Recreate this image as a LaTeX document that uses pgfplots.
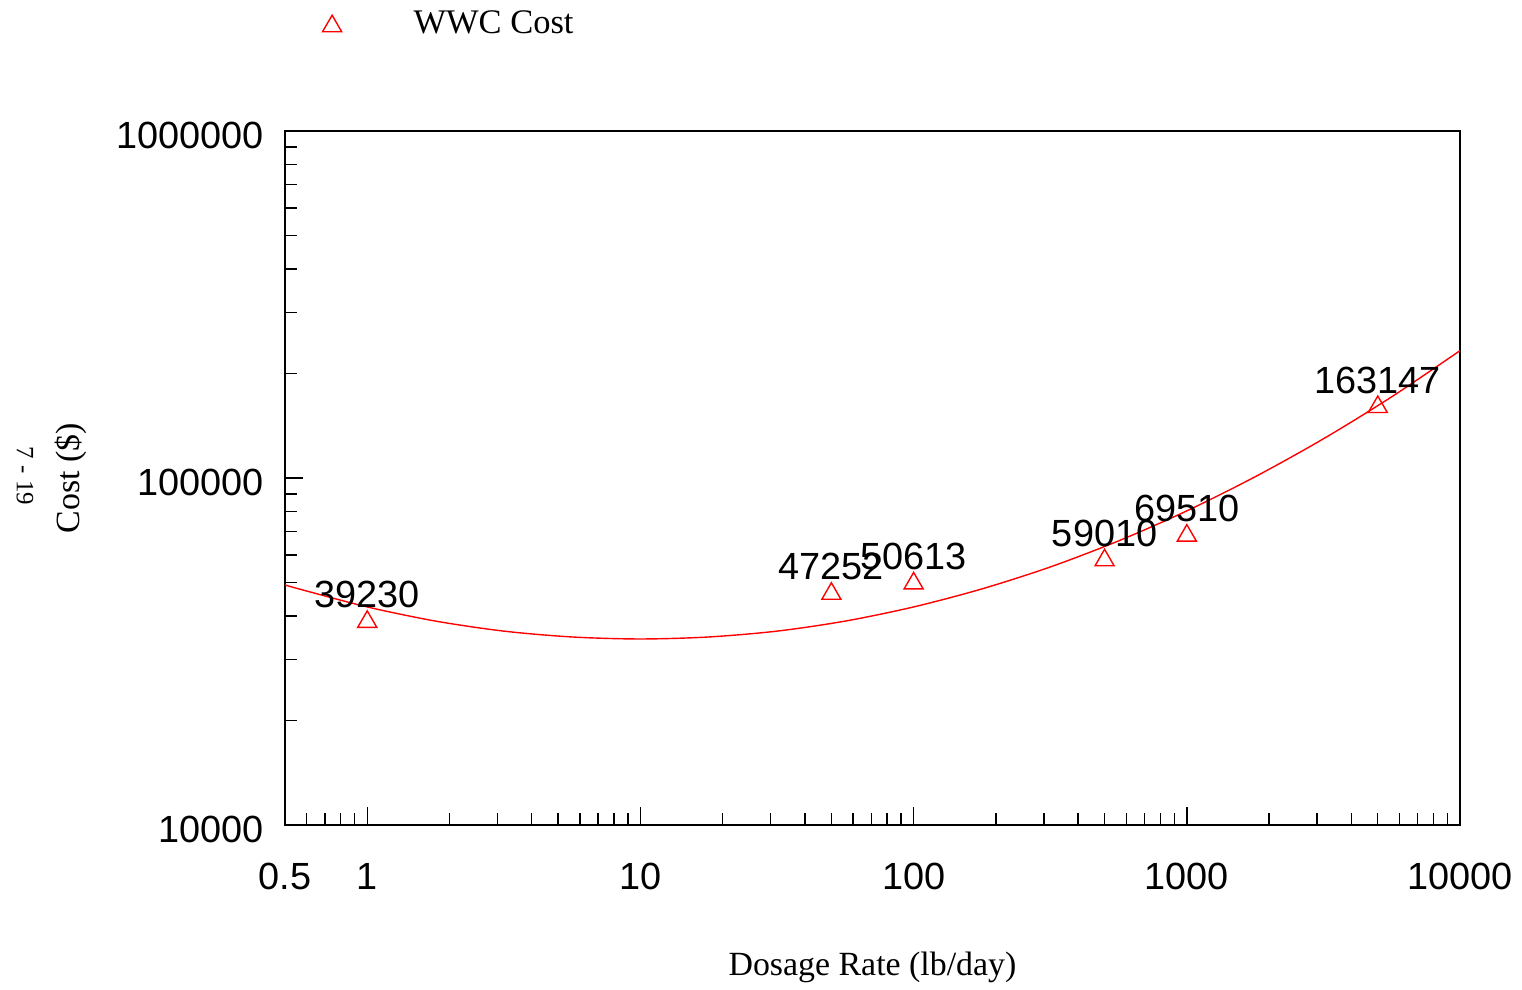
\documentclass[border=0pt]{standalone}
\usepackage{fontspec}
\setmainfont{Liberation Serif}
\newfontfamily\sans{Liberation Sans}
\usepackage{pgfplots}
\pgfplotsset{compat=1.18}
\usepackage{pgfplotstable}

% measured costs
\pgfplotstableread{
x y lbl
1 39230 39230
50 47252 47252
100 50613 50613
500 59010 59010
1000 69510 69510
5000 163147 163147
}\pts

% fitted curve
\pgfplotstableread{
x y
0.5 49200
0.5623 47900
1 42500
1.778 38700
3.162 36200
5.623 34820
10 34360
17.78 34820
31.62 36200
56.23 38700
100 42500
177.8 47900
316.2 55400
562.3 65870
1000 80400
1778 100800
3162 129700
5623 171400
10000 232800
}\fitcurve

\begin{document}
\begin{tikzpicture}
\useasboundingbox (-142.5bp,-82.5bp) rectangle (618.5bp,412.5bp);
\begin{axis}[
    at={(0,0)}, anchor=south west, scale only axis,
    width=587.5bp, height=347bp,
    xmode=log, ymode=log,
    xmin=0.5, xmax=10000, ymin=10000, ymax=1000000,
    xtick={0.5,1,10,100,1000,10000},
    xticklabels={0.5,1,10,100,1000,10000},
    minor xtick={0.6,0.7,0.8,0.9,2,3,4,5,6,7,8,9,20,30,40,50,60,70,80,90,200,300,400,500,600,700,800,900,2000,3000,4000,5000,6000,7000,8000,9000},
    ytick={10000,100000,1000000},
    yticklabels={10000,100000,1000000},
    minor ytick={20000,30000,40000,50000,60000,70000,80000,90000,200000,300000,400000,500000,600000,700000,800000,900000},
    xtick pos=left, ytick pos=left, tick align=inside,
    major tick length=9bp, minor tick length=6bp,
    every tick/.style={black, line width=0.7bp},
    axis line style={line width=0.7bp},
    /pgf/number format/assume math mode=true,
    ticklabel style={font=\sans\fontsize{19}{21}\selectfont},
    xticklabel style={yshift=-15.5bp},
    yticklabel style={xshift=-7bp, yshift=-2bp},
    xlabel={Dosage Rate (lb/day)},
    ylabel={Cost (\$)},
    label style={font=\fontsize{17}{20}\selectfont},
    xlabel style={at={(axis description cs:0.5,0)}, anchor=center, yshift=-71bp},
    ylabel style={at={(axis description cs:-0.182,0.5)}, anchor=center},
    legend style={at={(axis description cs:0.032,1.155)}, anchor=west, draw=none, fill=none,
        inner sep=0pt, outer sep=0pt, font=\fontsize{17.3}{20}\selectfont,
        /tikz/every odd column/.append style={column sep=34bp}},
    legend image code/.code={\draw[#1] plot coordinates {(0bp,0bp)};},
    clip=false,
  ]
  \addplot[red, line width=0.7bp, smooth, no marks, forget plot] table[x=x, y=y] {\fitcurve};
  \addplot[red, only marks, mark=triangle, mark size=5.5bp, mark options={line width=0.7bp, yshift=-1.4bp},
    nodes near coords, point meta=explicit symbolic,
    nodes near coords style={text=black, anchor=center, yshift=13.5bp, font=\sans\fontsize{19}{21}\selectfont}]
    table[x=x, y=y, meta=lbl] {\pts};
  \addlegendentry{WWC Cost}
  \node[rotate=-90, font=\fontsize{12.5}{14}\selectfont] at (axis description cs:-0.2213,0.503) {7 - 19};
\end{axis}
\end{tikzpicture}
\end{document}
